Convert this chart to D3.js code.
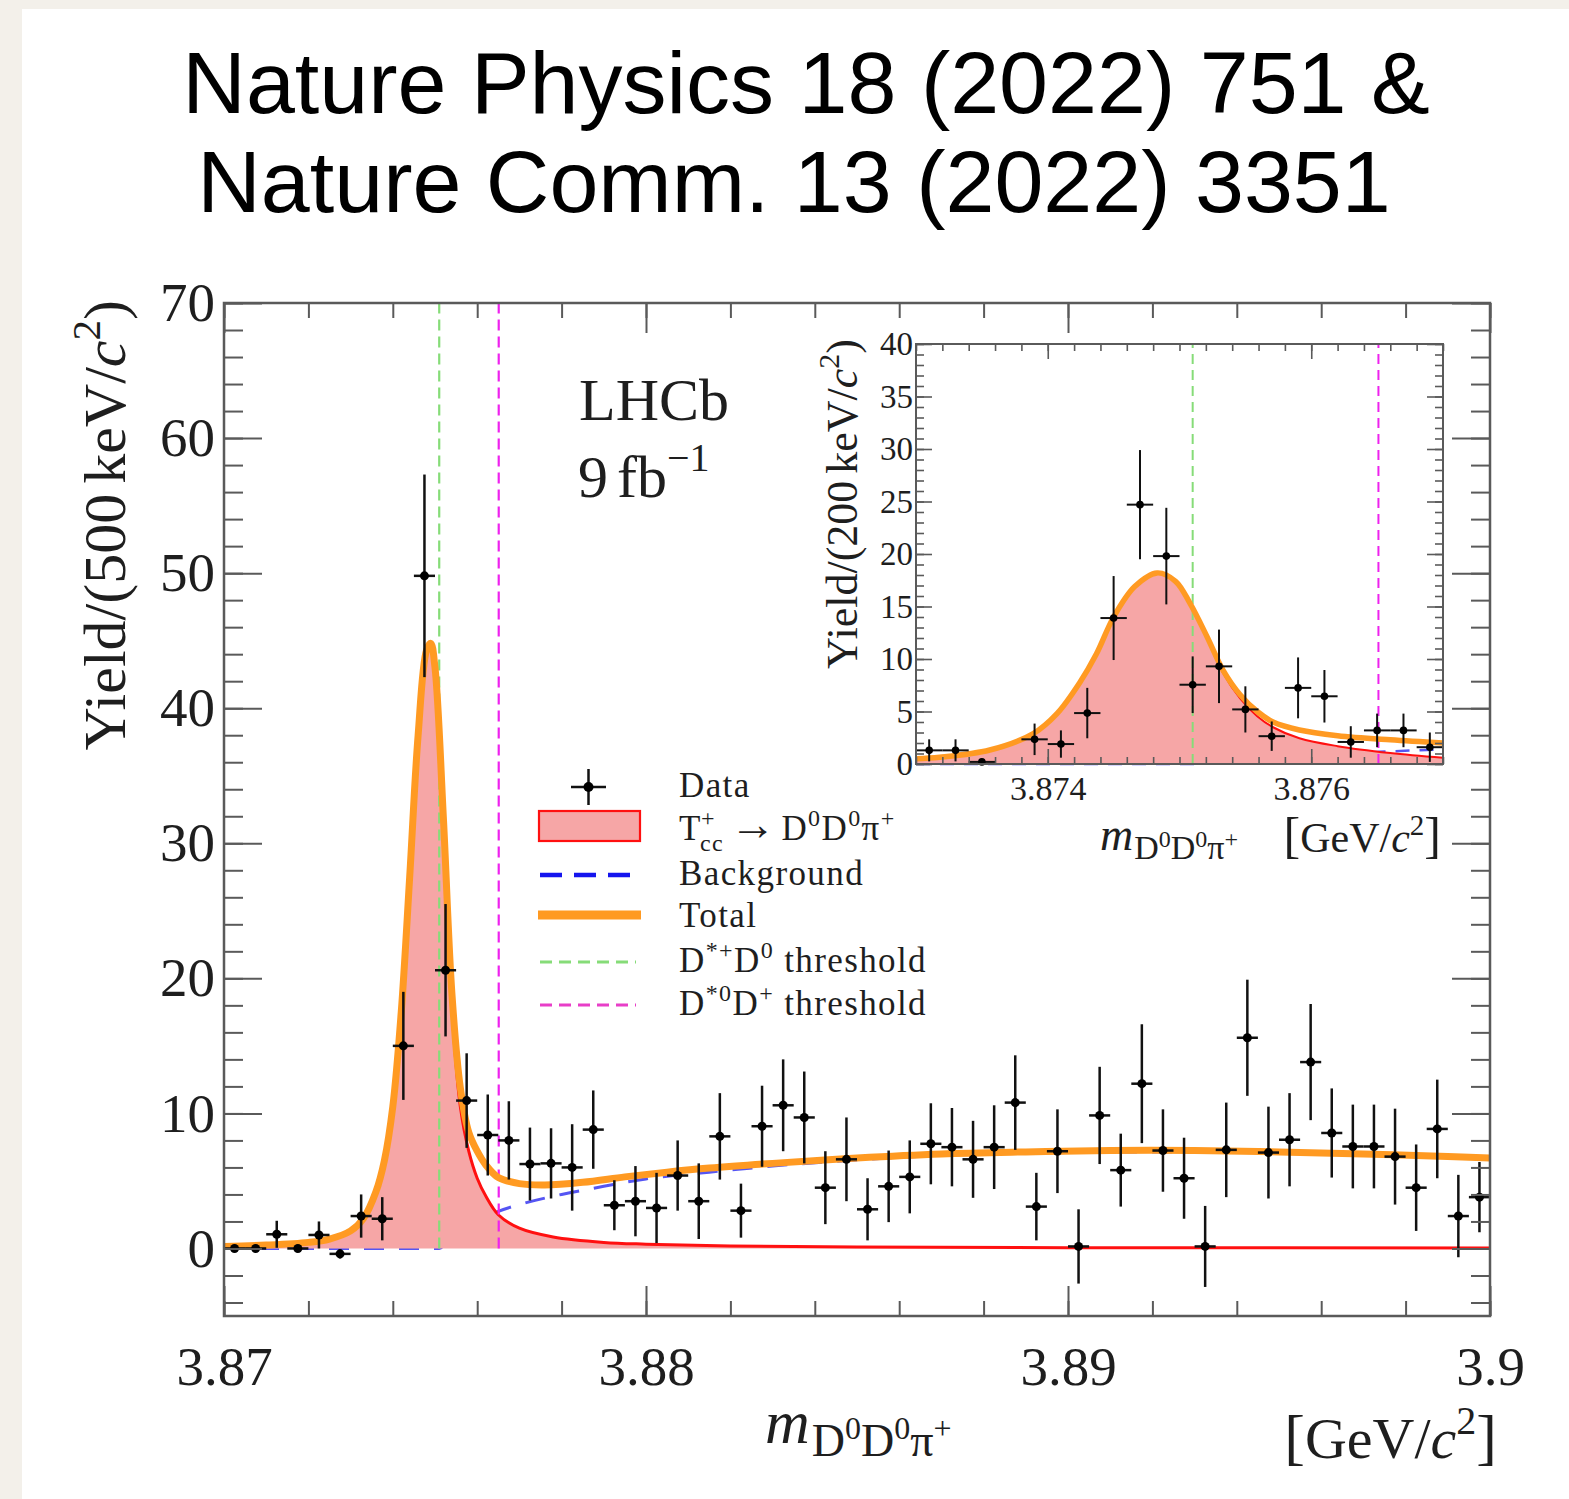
<!DOCTYPE html>
<html>
<head>
<meta charset="utf-8">
<script src="https://cdn.jsdelivr.net/npm/d3@7"></script>
<style>
  html, body { margin: 0; padding: 0; background: #f3f0ea; }
  svg { display: block; }
</style>
</head>
<body>
<svg id="chart" width="1569" height="1499"></svg>
<script>
// ---------- Histogram binning (500 keV bins, main plot) ----------
const mainBinLow = 3.870;
const mainBinWidth = 0.0005;

// Yield per 500 keV/c^2 bin (60 bins, 3.870 - 3.900 GeV/c^2)
const mainYield = [
  0.0, 0.0, 1.05, 0.0, 1.0, -0.4, 2.4, 2.2, 15.0, 49.8,
  20.6, 10.95, 8.4, 8.0, 6.25, 6.3, 6.0, 8.8, 3.2, 3.5,
  3.0, 5.4, 3.5, 8.3, 2.8, 9.05, 10.6, 9.7, 4.5, 6.6,
  2.9, 4.6, 5.3, 7.75, 7.5, 6.6, 7.5, 10.8, 3.1, 7.2,
  0.15, 9.85, 5.8, 12.2, 7.25, 5.2, 0.15, 7.3, 15.6, 7.1,
  8.05, 13.8, 8.55, 7.55, 7.55, 6.8, 4.5, 8.85, 2.4, 3.8
];
const mainError = [
  0, 0, 1.0, 0, 1.0, 0.35, 1.6, 1.6, 4.0, 7.5,
  4.9, 3.5, 3.0, 2.9, 2.7, 2.6, 3.2, 2.9, 1.85, 2.6,
  2.6, 2.6, 2.8, 3.2, 2.0, 3.0, 3.4, 3.4, 2.7, 3.1,
  2.3, 2.65, 2.7, 3.0, 2.9, 2.85, 3.1, 3.5, 2.5, 3.1,
  2.75, 3.6, 2.7, 4.4, 3.05, 3.0, 3.0, 3.5, 4.3, 3.4,
  3.45, 4.3, 3.3, 3.1, 3.1, 3.55, 3.2, 3.65, 3.05, 2.6
];

// Fit components, main plot (yield per 500 keV/c^2)
const totalMass = [3.8700, 3.8710, 3.8720, 3.8725, 3.8730, 3.8733, 3.8736, 3.8738, 3.8740, 3.8742,
  3.8744, 3.8746, 3.8748, 3.8749, 3.8750, 3.8752, 3.8754, 3.8756, 3.8758, 3.8760,
  3.8762, 3.8765, 3.8770, 3.8776, 3.8785, 3.8795, 3.8805, 3.8815, 3.8830, 3.8850,
  3.8870, 3.8890, 3.8910, 3.8930, 3.8950, 3.8970, 3.8990, 3.9000];
const totalYield = [0.15, 0.25, 0.45, 0.7, 1.3, 2.2, 4.2, 6.5, 10.5, 17.5,
  27.5, 38.0, 44.3, 44.8, 43.0, 31.8, 18.9, 11.9, 8.6, 7.2,
  6.2, 5.25, 4.8, 4.7, 4.9, 5.3, 5.65, 5.95, 6.3, 6.7,
  7.0, 7.15, 7.25, 7.25, 7.15, 7.0, 6.8, 6.7];

const signalMass = [3.8700, 3.8710, 3.8720, 3.8725, 3.8730, 3.8733, 3.8736, 3.8738, 3.8740, 3.8742,
  3.8744, 3.8746, 3.8748, 3.8749, 3.8750, 3.8752, 3.8754, 3.8756, 3.8758, 3.8760,
  3.8762, 3.8765, 3.8770, 3.8778, 3.8790, 3.8800, 3.8820, 3.8850, 3.8900, 3.9000];
const signalYield = [0.15, 0.25, 0.45, 0.7, 1.3, 2.2, 4.2, 6.5, 10.5, 17.5,
  27.5, 38.0, 44.3, 44.8, 43.0, 31.0, 17.8, 10.5, 7.2, 5.2,
  3.9, 2.5, 1.5, 0.85, 0.45, 0.32, 0.18, 0.1, 0.06, 0.04];

const bkgMass = [3.8700, 3.8751, 3.8755, 3.8760, 3.8765, 3.8770, 3.8780, 3.8790, 3.8800, 3.8815,
  3.8830, 3.8850, 3.8870, 3.8890, 3.8910, 3.8930, 3.8950, 3.8970, 3.8990, 3.9000];
const bkgYield = [0, 0, 1.3, 2.0, 2.75, 3.25, 4.0, 4.6, 5.15, 5.65,
  6.1, 6.55, 6.9, 7.05, 7.15, 7.15, 7.1, 6.95, 6.75, 6.65];

// ---------- Inset (200 keV bins) ----------
const insetBinLow = 3.873;
const insetBinWidth = 0.0002;
const insetYield = [1.3, 1.3, 0.2, null, 2.35, 1.9, 4.85, 13.9, 24.7, 19.8,
  7.55, 9.3, 5.2, 2.65, 7.25, 6.45, 2.1, 3.2, 3.2, 1.6];
const insetError = [1.05, 1.05, 0.3, 0, 1.5, 1.3, 2.4, 4.0, 5.2, 4.6,
  2.7, 3.5, 2.2, 1.4, 2.9, 2.5, 1.5, 1.6, 1.6, 1.4];

const insetTotalMass = [3.8730, 3.87318, 3.87356, 3.87389, 3.87407, 3.87424, 3.87437, 3.87450, 3.87466, 3.87483,
  3.87497, 3.87508, 3.87521, 3.87533, 3.87546, 3.87559, 3.87571, 3.87591, 3.87620, 3.87660, 3.87700];
const insetTotalYield = [0.5, 0.64, 1.33, 2.9, 4.8, 7.7, 10.5, 14.0, 16.9, 18.2,
  17.4, 15.3, 12.1, 8.95, 6.6, 5.0, 4.0, 3.24, 2.7, 2.3, 2.0];
const insetSignalYield = [0.5, 0.64, 1.33, 2.9, 4.8, 7.7, 10.5, 14.0, 16.9, 18.2,
  17.4, 15.3, 11.95, 8.7, 6.25, 4.55, 3.5, 2.45, 1.7, 1.05, 0.6];
const insetBkgMass = [3.8730, 3.8751, 3.8753, 3.8756, 3.8760, 3.8765, 3.8770];
const insetBkgYield = [0, 0, 0.3, 0.55, 0.85, 1.15, 1.4];

// Thresholds [GeV/c^2]
const thresholdDstarPlusD0 = 3.87510;
const thresholdDstar0DPlus = 3.87651;

// Tick labels
const mainXTickLabels = ["3.87", "3.88", "3.89", "3.9"];
const mainXMajor = [3.87, 3.88, 3.89, 3.90];
const mainYMajor = [0, 10, 20, 30, 40, 50, 60, 70];
const insetXMajor = [3.874, 3.876];
const insetXTickLabels = ["3.874", "3.876"];
const insetYMajor = [0, 5, 10, 15, 20, 25, 30, 35, 40];

// ---------- Styles ----------
const SERIF = "'Liberation Serif', 'Times New Roman', serif";
const SANS = "'Liberation Sans', Arial, sans-serif";
const INK = "#1e1e1e";
const AXIS = "#5a5a5a";
const ORANGE = "#ff9a22";
const RED = "#ff1010";
const FILL = "#f6a6a6";
const BLUE = "#2b2bf0";
const GREEN = "#86dc78";
const MAGENTA = "#ee22ee";
const smooth = d3.curveCatmullRom.alpha(0.5);

const svg = d3.select("#chart");
svg.append("rect").attr("x", 22).attr("y", 9).attr("width", 1569 - 22).attr("height", 1499 - 9).attr("fill", "#ffffff");

// Rich text with sub/superscripts: segments {t, size, shift, italic, dx}
function richText(parent, segs, attrs) {
  const t = parent.append("text").attr("font-family", SERIF).attr("fill", INK);
  Object.entries(attrs).forEach(([k, v]) => t.attr(k, v));
  let prev = 0;
  segs.forEach(s => {
    const sh = s.shift || 0;
    const ts = t.append("tspan").text(s.t).attr("font-size", s.size).attr("dy", sh - prev);
    if (s.italic) ts.attr("font-style", "italic");
    if (s.dx) ts.attr("dx", s.dx);
    prev = sh;
  });
  return t;
}

// ---------- Title ----------
svg.append("text").attr("x", 806).attr("y", 113).attr("text-anchor", "middle")
  .attr("font-family", SANS).attr("font-size", 88).attr("fill", "#000")
  .text("Nature Physics 18 (2022) 751 &");
svg.append("text").attr("x", 794).attr("y", 212).attr("text-anchor", "middle")
  .attr("font-family", SANS).attr("font-size", 88).attr("fill", "#000")
  .text("Nature Comm. 13 (2022) 3351");

// ---------- Main plot scales ----------
const x = d3.scaleLinear().domain([3.870, 3.900]).range([224, 1490]);
const y = d3.scaleLinear().domain([-5, 70]).range([1316, 303]);

const mainBins = mainYield.map((v, i) => ({
  lo: mainBinLow + i * mainBinWidth,
  hi: mainBinLow + (i + 1) * mainBinWidth,
  c: mainBinLow + (i + 0.5) * mainBinWidth,
  v, e: mainError[i]
}));

const plot = svg.append("g");

// Background component (drawn first: hidden under the signal fill)
const bkgPts = bkgMass.map((m, i) => [m, bkgYield[i]]);
plot.append("path").datum(bkgPts)
  .attr("d", d3.line().x(d => x(d[0])).y(d => y(d[1])).curve(d3.curveMonotoneX))
  .attr("fill", "none").attr("stroke", BLUE).attr("stroke-width", 3)
  .attr("stroke-dasharray", "20,15").attr("opacity", 0.8);

// Signal component
const sigPts = signalMass.map((m, i) => [m, signalYield[i]]);
plot.append("path").datum(sigPts)
  .attr("d", d3.area().x(d => x(d[0])).y0(y(0)).y1(d => y(d[1])).curve(smooth))
  .attr("fill", FILL);
plot.append("path").datum(sigPts)
  .attr("d", d3.line().x(d => x(d[0])).y(d => y(d[1])).curve(smooth))
  .attr("fill", "none").attr("stroke", RED).attr("stroke-width", 3);

// Threshold lines
[[thresholdDstarPlusD0, GREEN], [thresholdDstar0DPlus, MAGENTA]].forEach(([m, col]) => {
  plot.append("line").attr("x1", x(m)).attr("x2", x(m)).attr("y1", y(0)).attr("y2", y(70))
    .attr("stroke", col).attr("stroke-width", 2.2).attr("stroke-dasharray", "11,6");
});

// Total fit
const totPts = totalMass.map((m, i) => [m, totalYield[i]]);
plot.append("path").datum(totPts)
  .attr("d", d3.line().x(d => x(d[0])).y(d => y(d[1])).curve(smooth))
  .attr("fill", "none").attr("stroke", ORANGE).attr("stroke-width", 7).attr("stroke-linejoin", "round");

// Data points
const pts = plot.append("g").attr("stroke", "#111").attr("stroke-width", 2.5);
mainBins.forEach(b => {
  if (b.e > 0) pts.append("line").attr("x1", x(b.c)).attr("x2", x(b.c)).attr("y1", y(b.v - b.e)).attr("y2", y(b.v + b.e));
  pts.append("line").attr("x1", x(b.lo)).attr("x2", x(b.hi)).attr("y1", y(b.v)).attr("y2", y(b.v));
});
plot.append("g").selectAll("circle").data(mainBins).join("circle")
  .attr("cx", d => x(d.c)).attr("cy", d => y(d.v)).attr("r", 4.5).attr("fill", "#000");

// ---------- Main frame and ticks ----------
function tickAxis(g, axis) {
  g.call(axis);
  g.select(".domain").remove();
  g.selectAll("line").attr("stroke", AXIS).attr("stroke-width", 2);
  g.selectAll("text").remove();
}
const minorX = d3.range(0, 16).map(i => 3.870 + i * 0.002);
const minorY = d3.range(-2, 36).map(i => i * 2);
const axes = svg.append("g");
tickAxis(axes.append("g").attr("transform", `translate(0,${y(-5)})`), d3.axisBottom(x).tickValues(mainXMajor).tickSize(-30));
tickAxis(axes.append("g").attr("transform", `translate(0,${y(-5)})`), d3.axisBottom(x).tickValues(minorX).tickSize(-15));
tickAxis(axes.append("g").attr("transform", `translate(0,${y(70)})`), d3.axisTop(x).tickValues(mainXMajor).tickSize(-30));
tickAxis(axes.append("g").attr("transform", `translate(0,${y(70)})`), d3.axisTop(x).tickValues(minorX).tickSize(-15));
tickAxis(axes.append("g").attr("transform", `translate(${x(3.87)},0)`), d3.axisLeft(y).tickValues(mainYMajor).tickSize(-38));
tickAxis(axes.append("g").attr("transform", `translate(${x(3.87)},0)`), d3.axisLeft(y).tickValues(minorY).tickSize(-19));
tickAxis(axes.append("g").attr("transform", `translate(${x(3.9)},0)`), d3.axisRight(y).tickValues(mainYMajor).tickSize(-38));
tickAxis(axes.append("g").attr("transform", `translate(${x(3.9)},0)`), d3.axisRight(y).tickValues(minorY).tickSize(-19));
axes.append("rect").attr("x", x(3.87)).attr("y", y(70)).attr("width", x(3.9) - x(3.87)).attr("height", y(-5) - y(70))
  .attr("fill", "none").attr("stroke", AXIS).attr("stroke-width", 2.5);

// Tick labels
const xLab = svg.append("g").attr("transform", `translate(0,${y(-5)})`)
  .call(d3.axisBottom(x).tickValues(mainXMajor).tickSize(0).tickPadding(30).tickFormat((d, i) => mainXTickLabels[i]));
xLab.select(".domain").remove();
xLab.attr("font-family", SERIF).attr("font-size", 55).selectAll("text").attr("fill", INK);
const yLab = svg.append("g").attr("transform", `translate(${x(3.87)},0)`)
  .call(d3.axisLeft(y).tickValues(mainYMajor).tickSize(0).tickPadding(9).tickFormat(d3.format("d")));
yLab.select(".domain").remove();
yLab.attr("font-family", SERIF).attr("font-size", 55).selectAll("text").attr("fill", INK);

// Axis titles
richText(svg, [
  { t: "Yield/(500", size: 60 },
  { t: "keV/", size: 60, dx: 10 },
  { t: "c", size: 60, italic: true },
  { t: "2", size: 41, shift: -25 },
  { t: ")", size: 60, shift: 0 }
], { transform: "translate(125,300) rotate(-90)", "text-anchor": "end" });

richText(svg, [
  { t: "m", size: 62, italic: true },
  { t: "D", size: 46, shift: 13, dx: 2 },
  { t: "0", size: 32, shift: -4 },
  { t: "D", size: 46, shift: 13 },
  { t: "0", size: 32, shift: -4 },
  { t: "π", size: 46, shift: 13 },
  { t: "+", size: 32, shift: -4 }
], { x: 765, y: 1443 });

richText(svg, [
  { t: "[", size: 62 },
  { t: "GeV/", size: 58 },
  { t: "c", size: 58, italic: true },
  { t: "2", size: 40, shift: -24 },
  { t: "]", size: 62, shift: 0 }
], { x: 1497, y: 1458, "text-anchor": "end" });

// LHCb label
svg.append("text").attr("x", 579).attr("y", 420).attr("font-family", SERIF).attr("font-size", 60)
  .attr("fill", INK).text("LHCb");
richText(svg, [
  { t: "9", size: 60 },
  { t: "fb", size: 60, dx: 9 },
  { t: "−1", size: 40, shift: -26 }
], { x: 578, y: 497 });

// ---------- Legend ----------
const leg = svg.append("g").attr("letter-spacing", 1.4);
const legText = 35;
const legSup = 24;
// Data marker
leg.append("line").attr("x1", 571).attr("x2", 606).attr("y1", 787).attr("y2", 787).attr("stroke", "#111").attr("stroke-width", 2.5);
leg.append("line").attr("x1", 588.5).attr("x2", 588.5).attr("y1", 769).attr("y2", 805).attr("stroke", "#111").attr("stroke-width", 2.5);
leg.append("circle").attr("cx", 588.5).attr("cy", 787).attr("r", 5).attr("fill", "#000");
richText(leg, [{ t: "Data", size: legText }], { x: 679, y: 797 });
// Signal box
leg.append("rect").attr("x", 539).attr("y", 811).attr("width", 101).attr("height", 30)
  .attr("fill", FILL).attr("stroke", RED).attr("stroke-width", 2.2);
richText(leg, [{ t: "T", size: legText }], { x: 679, y: 840 });
richText(leg, [{ t: "+", size: legSup }], { x: 701, y: 826 });
richText(leg, [{ t: "cc", size: legSup }], { x: 700, y: 851 });
richText(leg, [
  { t: "→", size: 46 },
  { t: "D", size: legText, dx: 4 },
  { t: "0", size: legSup, shift: -14 },
  { t: "D", size: legText, shift: 0 },
  { t: "0", size: legSup, shift: -14 },
  { t: "π", size: legText, shift: 0 },
  { t: "+", size: legSup, shift: -14 }
], { x: 730, y: 840 });
// Background
leg.append("line").attr("x1", 540).attr("x2", 630).attr("y1", 875).attr("y2", 875)
  .attr("stroke", "#1515ee").attr("stroke-width", 4.5).attr("stroke-dasharray", "22,12");
richText(leg, [{ t: "Background", size: legText }], { x: 679, y: 885 });
// Total
leg.append("line").attr("x1", 538).attr("x2", 641).attr("y1", 915).attr("y2", 915)
  .attr("stroke", ORANGE).attr("stroke-width", 9);
richText(leg, [{ t: "Total", size: legText }], { x: 679, y: 927 });
// Thresholds
leg.append("line").attr("x1", 540).attr("x2", 636).attr("y1", 962).attr("y2", 962)
  .attr("stroke", GREEN).attr("stroke-width", 2.8).attr("stroke-dasharray", "12,7");
richText(leg, [
  { t: "D", size: legText },
  { t: "*+", size: legSup, shift: -14 },
  { t: "D", size: legText, shift: 0 },
  { t: "0", size: legSup, shift: -14 },
  { t: "threshold", size: legText, shift: 0, dx: 10 }
], { x: 679, y: 972 });
leg.append("line").attr("x1", 540).attr("x2", 636).attr("y1", 1005).attr("y2", 1005)
  .attr("stroke", "#e83ec8").attr("stroke-width", 2.8).attr("stroke-dasharray", "12,7");
richText(leg, [
  { t: "D", size: legText },
  { t: "*0", size: legSup, shift: -14 },
  { t: "D", size: legText, shift: 0 },
  { t: "+", size: legSup, shift: -14 },
  { t: "threshold", size: legText, shift: 0, dx: 10 }
], { x: 679, y: 1015 });

// ---------- Inset ----------
const xi = d3.scaleLinear().domain([3.873, 3.877]).range([916, 1443]);
const yi = d3.scaleLinear().domain([0, 40]).range([764, 344]);
const inset = svg.append("g");
inset.append("rect").attr("x", xi(3.873)).attr("y", yi(40)).attr("width", xi(3.877) - xi(3.873))
  .attr("height", yi(0) - yi(40)).attr("fill", "#fff");

const iBkg = insetBkgMass.map((m, i) => [m, insetBkgYield[i]]);
inset.append("path").datum(iBkg)
  .attr("d", d3.line().x(d => xi(d[0])).y(d => yi(d[1])).curve(d3.curveMonotoneX))
  .attr("fill", "none").attr("stroke", BLUE).attr("stroke-width", 2.5).attr("stroke-dasharray", "14,10").attr("opacity", 0.8);
const iSig = insetTotalMass.map((m, i) => [m, insetSignalYield[i]]);
inset.append("path").datum(iSig)
  .attr("d", d3.area().x(d => xi(d[0])).y0(yi(0)).y1(d => yi(d[1])).curve(smooth))
  .attr("fill", FILL);
inset.append("path").datum(iSig)
  .attr("d", d3.line().x(d => xi(d[0])).y(d => yi(d[1])).curve(smooth))
  .attr("fill", "none").attr("stroke", RED).attr("stroke-width", 2);
[[thresholdDstarPlusD0, GREEN], [thresholdDstar0DPlus, MAGENTA]].forEach(([m, col]) => {
  inset.append("line").attr("x1", xi(m)).attr("x2", xi(m)).attr("y1", yi(0)).attr("y2", yi(40))
    .attr("stroke", col).attr("stroke-width", 2).attr("stroke-dasharray", "10,6");
});
const iTot = insetTotalMass.map((m, i) => [m, insetTotalYield[i]]);
inset.append("path").datum(iTot)
  .attr("d", d3.line().x(d => xi(d[0])).y(d => yi(d[1])).curve(smooth))
  .attr("fill", "none").attr("stroke", ORANGE).attr("stroke-width", 5.5).attr("stroke-linejoin", "round");

const insetBins = insetYield.map((v, i) => ({
  lo: insetBinLow + i * insetBinWidth,
  hi: insetBinLow + (i + 1) * insetBinWidth,
  c: insetBinLow + (i + 0.5) * insetBinWidth,
  v, e: insetError[i]
})).filter(b => b.v !== null);
const ipts = inset.append("g").attr("stroke", "#111").attr("stroke-width", 2);
insetBins.forEach(b => {
  if (b.e > 0) ipts.append("line").attr("x1", xi(b.c)).attr("x2", xi(b.c)).attr("y1", yi(Math.max(0, b.v - b.e))).attr("y2", yi(b.v + b.e));
  ipts.append("line").attr("x1", xi(b.lo)).attr("x2", xi(b.hi)).attr("y1", yi(b.v)).attr("y2", yi(b.v));
});
inset.append("g").selectAll("circle").data(insetBins).join("circle")
  .attr("cx", d => xi(d.c)).attr("cy", d => yi(d.v)).attr("r", 3.8).attr("fill", "#000");

// Inset frame and ticks
const iMinorX = d3.range(0, 21).map(i => 3.873 + i * 0.0002);
const iMinorY = d3.range(0, 41);
const iax = svg.append("g");
tickAxis(iax.append("g").attr("transform", `translate(0,${yi(0)})`), d3.axisBottom(xi).tickValues(insetXMajor).tickSize(-15));
tickAxis(iax.append("g").attr("transform", `translate(0,${yi(0)})`), d3.axisBottom(xi).tickValues(iMinorX).tickSize(-7));
tickAxis(iax.append("g").attr("transform", `translate(0,${yi(40)})`), d3.axisTop(xi).tickValues(insetXMajor).tickSize(-15));
tickAxis(iax.append("g").attr("transform", `translate(0,${yi(40)})`), d3.axisTop(xi).tickValues(iMinorX).tickSize(-7));
tickAxis(iax.append("g").attr("transform", `translate(${xi(3.873)},0)`), d3.axisLeft(yi).tickValues(insetYMajor).tickSize(-16));
tickAxis(iax.append("g").attr("transform", `translate(${xi(3.873)},0)`), d3.axisLeft(yi).tickValues(iMinorY).tickSize(-8));
tickAxis(iax.append("g").attr("transform", `translate(${xi(3.877)},0)`), d3.axisRight(yi).tickValues(insetYMajor).tickSize(-16));
tickAxis(iax.append("g").attr("transform", `translate(${xi(3.877)},0)`), d3.axisRight(yi).tickValues(iMinorY).tickSize(-8));
iax.selectAll("line").attr("stroke-width", 1.6);
iax.append("rect").attr("x", xi(3.873)).attr("y", yi(40)).attr("width", xi(3.877) - xi(3.873)).attr("height", yi(0) - yi(40))
  .attr("fill", "none").attr("stroke", AXIS).attr("stroke-width", 2);

const ixLab = svg.append("g").attr("transform", `translate(0,${yi(0)})`)
  .call(d3.axisBottom(xi).tickValues(insetXMajor).tickSize(0).tickPadding(12).tickFormat((d, i) => insetXTickLabels[i]));
ixLab.select(".domain").remove();
ixLab.attr("font-family", SERIF).attr("font-size", 34).selectAll("text").attr("fill", INK);
const iyLab = svg.append("g").attr("transform", `translate(${xi(3.873)},0)`)
  .call(d3.axisLeft(yi).tickValues(insetYMajor).tickSize(0).tickPadding(3).tickFormat(d3.format("d")));
iyLab.select(".domain").remove();
iyLab.attr("font-family", SERIF).attr("font-size", 33).selectAll("text").attr("fill", INK);

richText(svg, [
  { t: "Yield/(200", size: 44 },
  { t: "keV/", size: 44, dx: 7 },
  { t: "c", size: 44, italic: true },
  { t: "2", size: 30, shift: -18 },
  { t: ")", size: 44, shift: 0 }
], { transform: "translate(857,339) rotate(-90)", "text-anchor": "end" });

richText(svg, [
  { t: "m", size: 46, italic: true },
  { t: "D", size: 34, shift: 9, dx: 1 },
  { t: "0", size: 24, shift: -3 },
  { t: "D", size: 34, shift: 9 },
  { t: "0", size: 24, shift: -3 },
  { t: "π", size: 34, shift: 9 },
  { t: "+", size: 24, shift: -3 }
], { x: 1100, y: 850 });
richText(svg, [
  { t: "[", size: 50 },
  { t: "GeV/", size: 42 },
  { t: "c", size: 42, italic: true },
  { t: "2", size: 29, shift: -17 },
  { t: "]", size: 50, shift: 0 }
], { x: 1441, y: 852, "text-anchor": "end" });
</script>
</body>
</html>
